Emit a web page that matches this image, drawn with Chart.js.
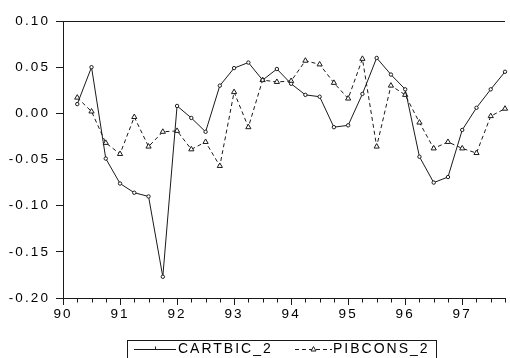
<!DOCTYPE html>
<html>
<head>
<meta charset="utf-8">
<script src="https://cdn.jsdelivr.net/npm/chart.js"></script>
<style>
  html, body { margin: 0; padding: 0; background: #fff; }
  #wrap { width: 510px; height: 358px; }
</style>
</head>
<body>
<div id="wrap"><canvas id="chart" width="510" height="358"></canvas></div>
<script>
// quarterly observations, 1990Q2 - 1997Q4
const quarters = [
  '1990Q2', '1990Q3', '1990Q4',
  '1991Q1', '1991Q2', '1991Q3', '1991Q4',
  '1992Q1', '1992Q2', '1992Q3', '1992Q4',
  '1993Q1', '1993Q2', '1993Q3', '1993Q4',
  '1994Q1', '1994Q2', '1994Q3', '1994Q4',
  '1995Q1', '1995Q2', '1995Q3', '1995Q4',
  '1996Q1', '1996Q2', '1996Q3', '1996Q4',
  '1997Q1', '1997Q2', '1997Q3', '1997Q4'
];
const cartbic2 = [
  0.010, 0.050, -0.049,
  -0.076, -0.086, -0.090, -0.177,
  0.008, -0.005, -0.020, 0.030,
  0.049, 0.055, 0.036, 0.048,
  0.032, 0.020, 0.018, -0.015,
  -0.013, 0.021, 0.060, 0.042,
  0.026, -0.047, -0.075, -0.069,
  -0.018, 0.006, 0.026, 0.045
];
const pibcons2 = [
  0.017, 0.002, -0.032,
  -0.044, -0.004, -0.036, -0.020,
  -0.019, -0.039, -0.031, -0.057,
  0.023, -0.015, 0.036, 0.034,
  0.035, 0.057, 0.053, 0.033,
  0.016, 0.059, -0.036, 0.030,
  0.020, -0.010, -0.038, -0.031,
  -0.038, -0.043, -0.003, 0.005
];
const yearLabels = ['90', '91', '92', '93', '94', '95', '96', '97'];
const yTicks = [-0.20, -0.15, -0.10, -0.05, 0.00, 0.05, 0.10];
const seriesNames = ['CARTBIC_2', 'PIBCONS_2'];

// 1990Q1 -> 90, 1990Q2 -> 90.25 ...
function qToX(q) {
  const yr = parseInt(q.slice(0, 4), 10) - 1900;
  const qn = parseInt(q.slice(5), 10);
  return yr + (qn - 1) / 4;
}
const xs = quarters.map(qToX);
const toPoints = vals => vals.map((v, i) => ({ x: xs[i], y: v }));

const INK = '#1a1a1a';
const FONT = "'Liberation Sans', Arial, sans-serif";

const framePlugin = {
  id: 'frame',
  beforeDraw(chart) {
    chart.ctx.letterSpacing = '2.1px';
  },
  afterDraw(chart) {
    const { ctx, chartArea: a, scales } = chart;
    ctx.save();
    ctx.strokeStyle = INK;
    ctx.lineWidth = 1;
    // top border
    ctx.beginPath();
    ctx.moveTo(a.left, Math.round(a.top) + 0.5);
    ctx.lineTo(a.right, Math.round(a.top) + 0.5);
    ctx.stroke();
    // quarterly minor ticks under the time axis
    const xs = scales.x;
    const yb = Math.round(a.bottom) + 0.5;
    ctx.beginPath();
    for (let v = xs.min; v <= xs.max + 1e-9; v += 0.25) {
      if (Number.isInteger(v)) continue;
      const px = Math.round(xs.getPixelForValue(v)) + 0.5;
      ctx.moveTo(px, yb);
      ctx.lineTo(px, yb + 4);
    }
    ctx.stroke();
    ctx.restore();
  }
};

const legendPlugin = {
  id: 'boxLegend',
  afterDraw(chart) {
    const ctx = chart.ctx;
    const cy = 349.5;
    ctx.save();
    ctx.strokeStyle = INK;
    ctx.lineWidth = 1;
    ctx.strokeRect(127.5, 340.5, 309, 30);

    // solid sample with small marker
    ctx.beginPath();
    ctx.moveTo(134, cy);
    ctx.lineTo(176, cy);
    ctx.moveTo(155.5, cy);
    ctx.lineTo(155.5, cy - 3);
    ctx.stroke();

    // dashed sample with triangle
    ctx.setLineDash([4, 3]);
    ctx.beginPath();
    ctx.moveTo(295, cy);
    ctx.lineTo(332, cy);
    ctx.stroke();
    ctx.setLineDash([]);
    ctx.beginPath();
    ctx.moveTo(313.5, cy - 3);
    ctx.lineTo(316, cy + 1.5);
    ctx.lineTo(311, cy + 1.5);
    ctx.closePath();
    ctx.fillStyle = '#fff';
    ctx.fill();
    ctx.stroke();

    ctx.fillStyle = '#000';
    ctx.font = "14px " + FONT;
    ctx.letterSpacing = '2px';
    ctx.textBaseline = 'middle';
    ctx.textAlign = 'left';
    ctx.fillText(seriesNames[0], 178, cy);
    ctx.fillText(seriesNames[1], 333, cy);
    ctx.restore();
  }
};

new Chart(document.getElementById('chart'), {
  type: 'line',
  data: {
    datasets: [
      {
        label: seriesNames[0],
        data: toPoints(cartbic2),
        borderColor: INK,
        borderWidth: 1,
        pointStyle: 'circle',
        pointRadius: 1.7,
        pointBorderWidth: 1,
        pointBackgroundColor: '#fff',
        pointBorderColor: INK,
        tension: 0,
        clip: false
      },
      {
        label: seriesNames[1],
        data: toPoints(pibcons2),
        borderColor: INK,
        borderWidth: 1,
        borderDash: [4, 3],
        pointStyle: 'triangle',
        pointRadius: 3,
        pointBorderWidth: 1,
        pointBackgroundColor: '#fff',
        pointBorderColor: INK,
        tension: 0,
        clip: false
      }
    ]
  },
  options: {
    responsive: false,
    animation: false,
    layout: { padding: { top: 21, right: 0, bottom: 30, left: 0 } },
    plugins: {
      legend: { display: false },
      tooltip: { enabled: false }
    },
    scales: {
      x: {
        type: 'linear',
        min: 90,
        max: 97.75,
        afterFit: s => { s.height = 30; },
        afterBuildTicks: s => {
          s.ticks = yearLabels.map(l => ({ value: Number(l) }));
        },
        ticks: {
          autoSkip: false,
          maxRotation: 0,
          padding: 1,
          color: '#000',
          font: { family: FONT, size: 13.5 },
          callback: v => yearLabels[v - 90]
        },
        grid: {
          drawOnChartArea: false,
          drawTicks: true,
          tickLength: 7,
          tickColor: INK
        },
        border: { display: true, color: INK, width: 1 }
      },
      y: {
        min: -0.20,
        max: 0.10,
        afterFit: s => { s.width = 63; },
        afterBuildTicks: s => {
          s.ticks = yTicks.map(v => ({ value: v }));
        },
        ticks: {
          padding: 6,
          color: '#000',
          font: { family: FONT, size: 13.5 },
          callback: v => v.toFixed(2)
        },
        grid: {
          drawOnChartArea: false,
          drawTicks: true,
          tickLength: 7,
          tickColor: INK
        },
        border: { display: true, color: INK, width: 1 }
      }
    }
  },
  plugins: [framePlugin, legendPlugin]
});
</script>
</body>
</html>
